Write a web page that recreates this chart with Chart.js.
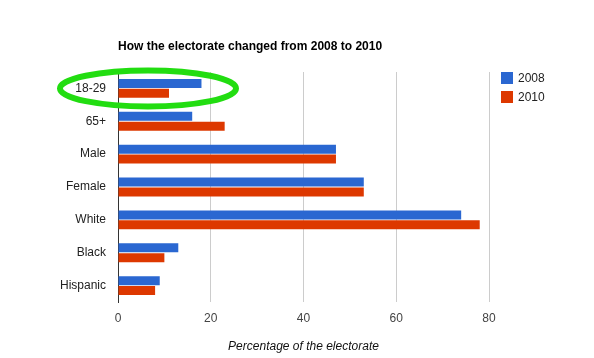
<!DOCTYPE html>
<html>
<head>
<meta charset="utf-8">
<script src="https://cdn.jsdelivr.net/npm/chart.js@4"></script>
<style>
  html, body { margin: 0; padding: 0; background: #fff; }
  #wrap { width: 594px; height: 358px; position: relative; }
</style>
</head>
<body>
<div id="wrap"><canvas id="electorateChart" width="594" height="358"></canvas></div>
<script>
// --- DATA ---
const groups = ['18-29', '65+', 'Male', 'Female', 'White', 'Black', 'Hispanic'];
const share2008 = [18, 16, 47, 53, 74, 13, 9];
const share2010 = [11, 23, 47, 53, 78, 10, 8];
const xTicks = [0, 20, 40, 60, 80];

const chartTitle = 'How the electorate changed from 2008 to 2010';
const axisTitle = 'Percentage of the electorate';

// Title, legend and the green highlight ring
const decorations = {
    id: 'decorations',
    afterDraw(chart) {
        const ctx = chart.ctx;
        const area = chart.chartArea;
        const y = chart.scales.y;
        ctx.save();

        // title
        ctx.fillStyle = '#000';
        ctx.font = 'bold 12px "Liberation Sans", Arial, sans-serif';
        ctx.textBaseline = 'middle';
        ctx.textAlign = 'left';
        ctx.fillText(chartTitle, area.left, 47);

        // legend
        ctx.font = '12px "Liberation Sans", Arial, sans-serif';
        chart.data.datasets.forEach(function(ds, i) {
            const ly = 78 + i * 19;
            ctx.fillStyle = ds.backgroundColor;
            ctx.fillRect(501, ly - 6, 12, 12);
            ctx.fillStyle = '#222';
            ctx.fillText(ds.label, 518, ly + 1);
        });

        // highlight around the first category
        const cy = y.getPixelForValue(0);
        ctx.strokeStyle = '#22dd11';
        ctx.lineWidth = 6;
        ctx.beginPath();
        ctx.ellipse(148, cy, 88, 18, 0, 0, Math.PI * 2);
        ctx.stroke();

        ctx.restore();
    }
};

const ctxChart = document.getElementById('electorateChart');
new Chart(ctxChart, {
    type: 'bar',
    data: {
        labels: groups,
        datasets: [
            { label: '2008', data: share2008, backgroundColor: '#2a67d1' },
            { label: '2010', data: share2010, backgroundColor: '#dd3800' }
        ]
    },
    options: {
        indexAxis: 'y',
        responsive: false,
        animation: false,
        categoryPercentage: 0.6,
        barPercentage: 0.91,
        layout: { padding: { left: 0, top: 72, right: 105, bottom: 0 } },
        plugins: {
            legend: { display: false },
            title: { display: false },
            tooltip: { enabled: false }
        },
        scales: {
            x: {
                min: 0,
                max: 80,
                afterBuildTicks: function(scale) {
                    scale.ticks = xTicks.map(function(v) { return { value: v }; });
                },
                afterFit: function(scale) { scale.height = 56; },
                grid: {
                    color: function(c) { return c.tick.value === 0 ? '#333' : '#ccc'; },
                    lineWidth: 1,
                    drawTicks: false
                },
                border: { display: false },
                ticks: {
                    color: '#444',
                    padding: 9,
                    font: { family: '"Liberation Sans", Arial, sans-serif', size: 12 }
                },
                title: {
                    display: true,
                    text: axisTitle,
                    color: '#111',
                    padding: { top: 15 },
                    font: { family: '"Liberation Sans", Arial, sans-serif', size: 12, style: 'italic' }
                }
            },
            y: {
                afterFit: function(scale) { scale.width = 118; },
                grid: { display: false, drawTicks: false },
                border: { display: true, color: '#333', width: 1 },
                ticks: {
                    color: '#222',
                    padding: 12,
                    font: { family: '"Liberation Sans", Arial, sans-serif', size: 12 }
                }
            }
        }
    },
    plugins: [decorations]
});
</script>
</body>
</html>
